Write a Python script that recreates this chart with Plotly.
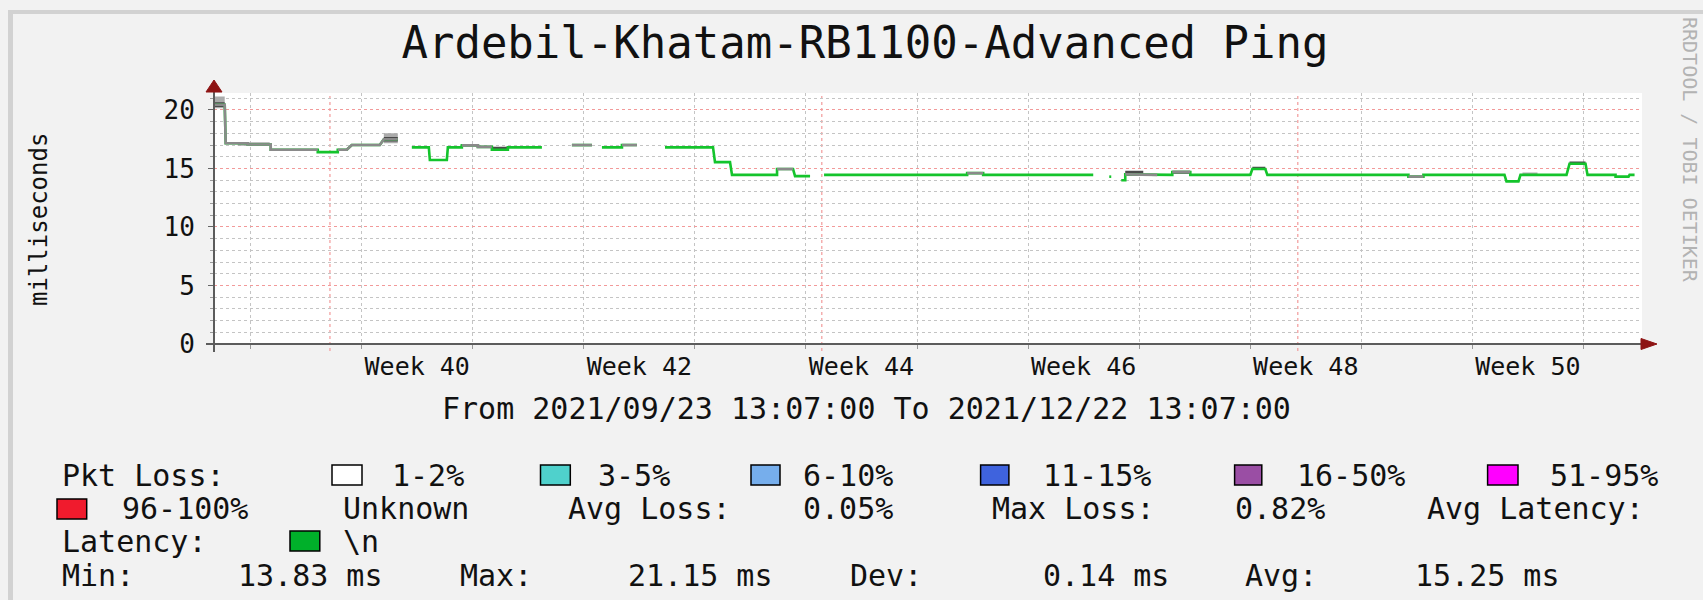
import plotly.graph_objects as go

# ---------------- data ----------------
TITLE = "Ardebil-Khatam-RB1100-Advanced Ping"
Y_TITLE = "milliseconds"
PERIOD = "From 2021/09/23 13:07:00 To 2021/12/22 13:07:00"
WATERMARK = "RRDTOOL / TOBI OETIKER"

x_range = ["2021-09-23 16:37", "2021-12-22 16:37"]
y_range = [0, 21.45]

week_label_pos = ["2021-10-06 12:00", "2021-10-20 12:00", "2021-11-03 12:00",
                  "2021-11-17 12:00", "2021-12-01 12:00", "2021-12-15 12:00"]
week_labels = ["Week 40", "Week 42", "Week 44", "Week 46", "Week 48", "Week 50"]
week_grid = ["2021-09-26", "2021-10-03", "2021-10-10", "2021-10-17", "2021-10-24",
             "2021-10-31", "2021-11-07", "2021-11-14", "2021-11-21", "2021-11-28",
             "2021-12-05", "2021-12-12", "2021-12-19"]
month_grid = ["2021-10-01", "2021-11-01", "2021-12-01"]
y_ticks = [0, 5, 10, 15, 20]

# median latency, as steps (None value = no data)
seg_start = ["2021-09-23 16:37", "2021-09-24 10:19", "2021-09-25 19:37", "2021-09-27 06:26",
             "2021-09-30 05:34", "2021-10-01 11:50", "2021-10-02 09:02", "2021-10-04 09:29",
             "2021-10-05 06:40",
             "2021-10-06 03:50", "2021-10-07 07:06", "2021-10-08 10:20", "2021-10-09 07:31",
             "2021-10-10 07:44", "2021-10-11 04:55", "2021-10-12 05:08", "2021-10-14 08:36",
             "2021-10-16 06:00", "2021-10-17 12:16", "2021-10-18 03:24", "2021-10-19 09:40",
             "2021-10-20 08:22",
             "2021-10-22 02:46", "2021-10-25 06:26", "2021-10-26 08:10", "2021-10-29 04:16",
             "2021-10-30 07:31", "2021-10-31 06:13",
             "2021-11-01 03:24", "2021-11-10 03:50", "2021-11-11 04:03", "2021-11-18 02:33",
             "2021-11-19 02:46", "2021-11-19 05:47",
             "2021-11-19 20:56", "2021-11-20 02:59", "2021-11-21 06:13", "2021-11-22 03:24",
             "2021-11-23 02:07", "2021-11-24 05:21", "2021-11-28 03:12", "2021-11-29 01:54",
             "2021-12-07 23:18", "2021-12-08 22:00", "2021-12-14 03:37", "2021-12-15 00:49",
             "2021-12-18 02:59", "2021-12-19 06:13", "2021-12-21 00:36", "2021-12-21 21:48"]
seg_end = ["2021-09-24 08:49", "2021-09-25 19:37", "2021-09-27 06:26", "2021-09-30 05:34",
           "2021-10-01 11:50", "2021-10-02 01:28", "2021-10-04 03:24", "2021-10-05 06:40",
           "2021-10-06 03:50",
           "2021-10-07 05:34", "2021-10-08 08:50", "2021-10-09 07:31", "2021-10-10 07:44",
           "2021-10-11 04:55", "2021-10-12 05:08", "2021-10-14 08:36", "2021-10-16 06:00",
           "2021-10-17 12:16", "2021-10-18 03:24", "2021-10-19 09:40", "2021-10-20 08:22",
           "2021-10-22 02:46",
           "2021-10-25 03:24", "2021-10-26 05:08", "2021-10-29 04:16", "2021-10-30 04:29",
           "2021-10-31 06:13", "2021-11-01 03:24",
           "2021-11-10 03:50", "2021-11-11 04:03", "2021-11-18 02:33", "2021-11-19 02:46",
           "2021-11-19 05:47", "2021-11-19 20:56",
           "2021-11-20 02:59", "2021-11-21 06:13", "2021-11-22 03:24", "2021-11-23 02:07",
           "2021-11-24 05:21", "2021-11-28 00:10", "2021-11-28 22:52", "2021-12-07 23:18",
           "2021-12-08 22:00", "2021-12-14 00:36", "2021-12-14 21:48", "2021-12-17 22:26",
           "2021-12-19 03:12", "2021-12-21 00:36", "2021-12-21 20:17", "2021-12-22 05:21"]
seg_value = [20.45, 17.15, 17.05, 16.6,
             16.4, 16.6, 17.0, 17.5,
             None,
             16.8, 15.73, 16.8, 16.97,
             16.85, 16.6, 16.8, None,
             17.0, None, 16.8, 17.0,
             None,
             16.8, 15.54, 14.45, 14.95,
             14.35, None,
             14.45, 14.6, 14.45, None,
             14.3, None,
             14.0, 14.5, 14.45, 14.45,
             14.7, 14.45, 14.95, 14.45,
             14.3, 14.45, 13.9, 14.45,
             15.4, 14.45, 14.3, 14.45]
seg_loss = [1, 1, 1, 1,
            0, 1, 1, 1,
            0,
            0, 0, 0, 1,
            1, 0, 0, 0,
            1, 0, 0, 1,
            0,
            0, 0, 0, 1,
            0, 0,
            0, 1, 0, 0,
            0, 0,
            0, 1, 1, 0,
            1, 0, 0, 0,
            1, 0, 0, 0,
            0, 0, 0, 0]

# smoke (spread of ping samples)
smoke_start = ["2021-09-23 16:37", "2021-09-23 16:37", "2021-09-25 04:29", "2021-10-04 09:29",
               "2021-10-04 09:29", "2021-10-11 04:55", "2021-11-20 02:59", "2021-11-23 02:07",
               "2021-11-28 03:12", "2021-12-15 03:50", "2021-12-18 02:59"]
smoke_end = ["2021-09-24 08:49", "2021-09-24 08:49", "2021-09-27 04:55", "2021-10-05 06:40",
             "2021-10-05 06:40", "2021-10-12 05:08", "2021-11-21 06:13", "2021-11-24 05:21",
             "2021-11-28 22:52", "2021-12-16 02:33", "2021-12-19 03:12"]
smoke_low = [20.15, 20.25, 16.95, 17.15, 17.3, 16.55, 14.35, 14.55, 14.9, 14.5, 15.3]
smoke_high = [21.15, 20.65, 17.25, 18.0, 17.7, 16.85, 14.8, 14.8, 15.15, 14.65, 15.6]
smoke_dark = [0, 1, 0, 0, 1, 1, 1, 1, 1, 0, 1]

loss_labels = ["1-2%", "3-5%", "6-10%", "11-15%", "16-50%", "51-95%", "96-100%"]
loss_colors = ["#FFFFFF", "#4FD1CC", "#76AEEC", "#3F63DD", "#9A4EA4", "#FF00FF", "#F01B2D"]
latency_color = "#00B02A"
stat_avg_loss = "0.05%"
stat_max_loss = "0.82%"
stat_min = "13.83 ms"
stat_max = "21.15 ms"
stat_dev = "0.14 ms"
stat_avg = "15.25 ms"

# ---------------- layout helpers ----------------
W, H = 1703, 600
L, R, T, B = 214, 61, 93, 256
PW, PH = W - L - R, H - T - B
FONT = "DejaVu Sans Mono"
LINE_GREEN = "#14C42C"
LINE_GRAY = "#8A8A8A"


def px(x):
    return (x - L) / PW


def py(y):
    return (H - B - y) / PH


fig = go.Figure()

# smoke bands
for dark in (0, 1):
    xs, ys = [], []
    for s, e, lo, hi, d in zip(smoke_start, smoke_end, smoke_low, smoke_high, smoke_dark):
        if d != dark:
            continue
        xs += [s, e, e, s, s, None]
        ys += [lo, lo, hi, hi, lo, None]
    fig.add_trace(go.Scatter(x=xs, y=ys, mode="lines", fill="toself",
                             fillcolor="#4A4A4A" if dark else "#ABABAB",
                             line=dict(width=0), hoverinfo="skip", showlegend=False))

# median line (green = no loss)
gx, gy = [], []
for s, e, v in zip(seg_start, seg_end, seg_value):
    if v is None:
        gx.append(None)
        gy.append(None)
    else:
        gx += [s, e]
        gy += [v, v]
fig.add_trace(go.Scatter(x=gx, y=gy, mode="lines", line=dict(color=LINE_GREEN, width=2.6),
                         hoverinfo="skip", showlegend=False, connectgaps=False))

# median segments with some loss / unknown (gray)
kx, ky = [], []
for i, (s, e, v, lo) in enumerate(zip(seg_start, seg_end, seg_value, seg_loss)):
    if lo and v is not None:
        kx += [s, e]
        ky += [v, v]
        nxt = seg_loss[i + 1] if i + 1 < len(seg_loss) else 0
        if not nxt:
            kx.append(None)
            ky.append(None)
fig.add_trace(go.Scatter(x=kx, y=ky, mode="lines", line=dict(color=LINE_GRAY, width=2.6),
                         hoverinfo="skip", showlegend=False, connectgaps=False))

shapes = []
# month (major) vertical grid lines, red dotted
for m in month_grid:
    shapes.append(dict(type="line", xref="x", yref="paper", x0=m, x1=m,
                       y0=py(351), y1=1, layer="between",
                       line=dict(color="#F29A9A", width=1.2, dash="dot")))

# frame stripes of the rrdtool canvas
shapes.append(dict(type="rect", xref="paper", yref="paper", x0=px(8), x1=px(13),
                   y0=py(600), y1=py(10), fillcolor="#D2D2D2", line=dict(width=0), layer="below"))
shapes.append(dict(type="rect", xref="paper", yref="paper", x0=px(8), x1=px(1703),
                   y0=py(14), y1=py(10), fillcolor="#D2D2D2", line=dict(width=0), layer="below"))

# axes with arrows
AX = "#5C5C5C"
ARROW = "#8E1414"
shapes.append(dict(type="line", xref="paper", yref="paper", x0=px(206), x1=px(1645),
                   y0=py(344), y1=py(344), line=dict(color=AX, width=2)))
shapes.append(dict(type="line", xref="paper", yref="paper", x0=px(214), x1=px(214),
                   y0=py(352), y1=py(88), line=dict(color=AX, width=2)))
shapes.append(dict(type="path", xref="paper", yref="paper",
                   path=f"M {px(1641)},{py(338.5)} L {px(1657)},{py(344)} L {px(1641)},{py(349.5)} Z",
                   fillcolor=ARROW, line=dict(color=ARROW, width=1)))
shapes.append(dict(type="path", xref="paper", yref="paper",
                   path=f"M {px(206)},{py(92)} L {px(214)},{py(80)} L {px(222)},{py(92)} Z",
                   fillcolor=ARROW, line=dict(color=ARROW, width=1)))

annotations = []


def text(t, x, y, size=30, anchor="center", color="#111111", angle=0):
    annotations.append(dict(text=t, xref="paper", yref="paper", x=px(x), y=py(y),
                            xanchor=anchor, yanchor="middle", showarrow=False,
                            textangle=angle, font=dict(family=FONT, size=size, color=color)))


def box(x0, x1, y, color):
    shapes.append(dict(type="rect", xref="paper", yref="paper", x0=px(x0), x1=px(x1),
                       y0=py(y + 10), y1=py(y - 10), fillcolor=color,
                       line=dict(color="#000000", width=1.5)))


text(Y_TITLE, 39, 220, size=24, angle=-90)
text(WATERMARK, 1690, 150, size=20, color="#B3B3B3", angle=90)
text(PERIOD, 866, 408, size=30)

# legend row 1
r1, r2, r3, r4 = 475, 509, 541, 575
text("Pkt Loss:", 59.6, r1, anchor="left")
box_spans = [(332, 362), (540.5, 570.3), (751, 780), (980.6, 1008.9), (1234.6, 1261.8), (1487.6, 1518)]
label_centers = [427.7, 634.3, 848, 1097, 1351, 1604]
for i in range(6):
    box(box_spans[i][0], box_spans[i][1], r1, loss_colors[i])
    text(loss_labels[i], label_centers[i], r1)
# row 2
box(57, 86.7, r2, loss_colors[6])
text(loss_labels[6], 185.1, r2)
text("Unknown", 406, r2)
text("Avg Loss:", 649, r2)
text(stat_avg_loss, 848, r2)
text("Max Loss:", 1073, r2)
text(stat_max_loss, 1280, r2)
text("Avg Latency:", 1535, r2)
# row 3
text("Latency:", 59.6, r3, anchor="left")
box(290, 319.8, r3, latency_color)
text("\\n", 361.3, r3)
# row 4
text("Min:", 59.6, r4, anchor="left")
text(stat_min, 310.4, r4)
text("Max:", 496, r4)
text(stat_max, 700, r4)
text("Dev:", 886, r4)
text(stat_dev, 1105.7, r4)
text("Avg:", 1281, r4)
text(stat_avg, 1487.3, r4)

fig.update_layout(
    width=W, height=H,
    margin=dict(l=L, r=R, t=T, b=B, pad=0),
    paper_bgcolor="#F2F2F2",
    plot_bgcolor="#FFFFFF",
    showlegend=False,
    title=dict(text=TITLE, x=865 / W, y=1 - 43 / H, xanchor="center", yanchor="middle",
               xref="container", yref="container",
               font=dict(family=FONT, size=44, color="#111111")),
    xaxis=dict(type="date", range=x_range, tickmode="array", tickvals=week_label_pos,
               ticktext=week_labels, ticks="", showgrid=False, zeroline=False, showline=False,
               ticklabelstandoff=5,
               tickfont=dict(family=FONT, size=25, color="#111111"),
               minor=dict(tickmode="array", tickvals=week_grid, showgrid=True,
                          gridcolor="#C4C4C4", griddash="dot", gridwidth=1,
                          ticks="outside", ticklen=4, tickcolor="#999999")),
    yaxis=dict(range=y_range, tickmode="array", tickvals=y_ticks, showgrid=True,
               gridcolor="#F29A9A", griddash="dot", gridwidth=1.2, zeroline=False,
               showline=False, ticks="outside", ticklen=5, tickcolor="#666666",
               ticklabelstandoff=8,
               tickfont=dict(family=FONT, size=26, color="#111111"),
               minor=dict(dtick=1, showgrid=True, gridcolor="#C4C4C4", griddash="dot",
                          gridwidth=1, ticks="outside", ticklen=3, tickcolor="#999999")),
    shapes=shapes,
    annotations=annotations,
)

fig.write_html("out.html", config={"displayModeBar": False},
               post_script="document.body.style.margin='0';document.body.style.overflow='hidden';")
